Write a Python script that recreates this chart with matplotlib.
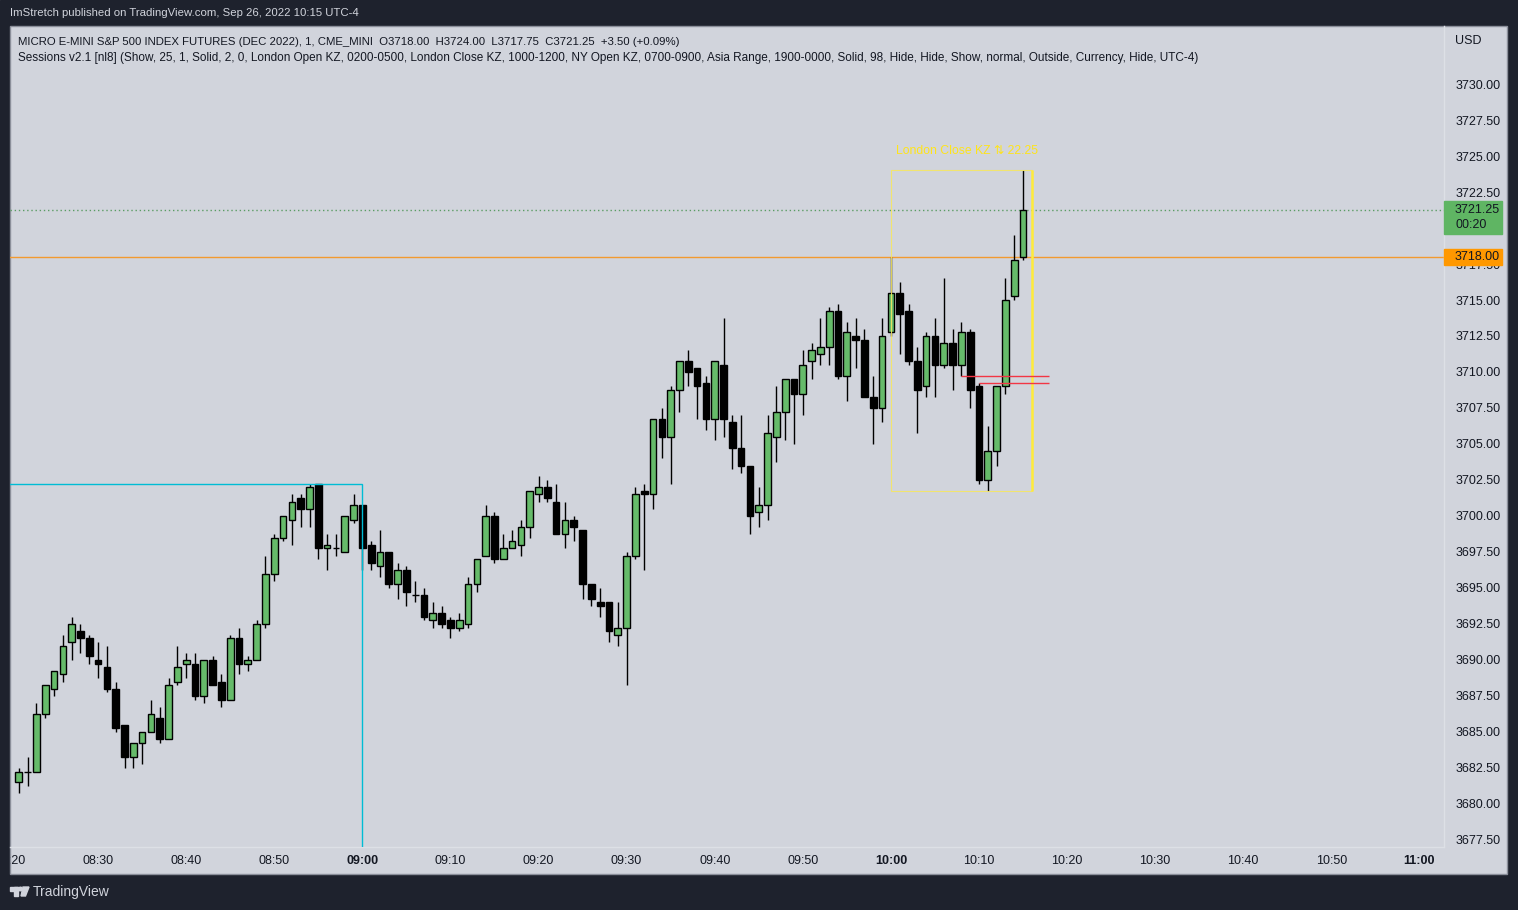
import numpy as np
import pandas as pd
import matplotlib
matplotlib.use("Agg")
import matplotlib.pyplot as plt
from matplotlib.patches import Rectangle, Polygon, Circle

plt.rcParams['font.family'] = ['Liberation Sans', 'DejaVu Sans']

# ---------------- data ----------------
start_time = "08:21"
opens = [3681.5, 3682.25, 3682.25, 3686.25, 3688.0, 3689.0, 3691.25, 3692.0, 3691.5, 3690.0,
         3689.5, 3688.0, 3685.5, 3683.25, 3684.25, 3685.0, 3686.0, 3684.5, 3688.5, 3689.75,
         3689.75, 3687.5, 3690.0, 3688.5, 3687.25, 3691.5, 3689.75, 3690.0, 3692.5, 3696.0,
         3698.5, 3699.75, 3701.25, 3700.5, 3702.25, 3697.75, 3697.75, 3697.5, 3699.75, 3700.75,
         3698.0, 3696.5, 3697.5, 3695.25, 3696.25, 3694.5, 3694.5, 3692.75, 3693.25, 3692.75,
         3692.25, 3692.5, 3695.25, 3697.25, 3700.0, 3697.0, 3697.75, 3698.0, 3699.25, 3701.5,
         3702.0, 3701.0, 3698.75, 3699.75, 3699.0, 3695.25, 3694.0, 3694.0, 3691.75, 3692.25,
         3697.25, 3701.75, 3701.5, 3706.75, 3705.5, 3708.75, 3710.75, 3710.25, 3709.25, 3706.75,
         3710.5, 3706.5, 3704.75, 3703.5, 3700.25, 3700.75, 3705.5, 3707.25, 3709.5, 3708.5,
         3710.75, 3711.25, 3711.75, 3714.25, 3709.75, 3712.5, 3712.25, 3708.25, 3707.5, 3712.75,
         3715.5, 3714.25, 3710.75, 3709.0, 3712.5, 3710.5, 3712.0, 3710.5, 3712.75, 3709.0,
         3702.5, 3704.5, 3709.0, 3715.25, 3718.0]
highs = [3682.5, 3683.25, 3687.0, 3688.25, 3689.25, 3691.75, 3693.0, 3692.5, 3691.75, 3691.25,
         3691.0, 3688.5, 3685.5, 3684.25, 3685.0, 3687.25, 3686.75, 3688.75, 3691.0, 3690.5,
         3690.5, 3690.0, 3690.25, 3689.0, 3691.75, 3692.25, 3690.25, 3692.75, 3697.25, 3698.75,
         3700.0, 3701.5, 3701.5, 3702.25, 3702.25, 3698.75, 3698.75, 3700.0, 3701.5, 3700.75,
         3698.25, 3699.0, 3697.5, 3696.75, 3696.5, 3695.5, 3695.0, 3694.0, 3693.75, 3693.0,
         3693.25, 3695.75, 3697.0, 3700.75, 3700.25, 3698.75, 3699.0, 3699.75, 3701.75, 3702.75,
         3702.5, 3702.25, 3701.0, 3700.0, 3699.0, 3695.25, 3695.0, 3694.0, 3694.0, 3697.5,
         3702.0, 3702.25, 3706.75, 3707.5, 3709.0, 3710.75, 3711.5, 3710.25, 3709.75, 3710.75,
         3713.75, 3707.0, 3707.0, 3703.5, 3702.0, 3707.0, 3709.0, 3709.5, 3709.5, 3711.5,
         3712.0, 3713.75, 3714.5, 3714.75, 3713.5, 3713.75, 3713.0, 3709.75, 3713.75, 3718.0,
         3716.25, 3714.75, 3711.75, 3712.75, 3713.75, 3716.5, 3713.0, 3713.5, 3713.0, 3709.25,
         3706.25, 3709.0, 3716.5, 3719.5, 3724.0]
lows = [3680.75, 3681.25, 3682.25, 3686.0, 3687.5, 3688.5, 3690.0, 3690.5, 3689.75, 3688.75,
        3687.75, 3685.0, 3682.5, 3682.5, 3682.75, 3685.0, 3684.25, 3684.5, 3688.25, 3688.75,
        3687.25, 3687.0, 3688.25, 3686.75, 3687.25, 3689.0, 3689.25, 3690.0, 3692.25, 3695.5,
        3698.25, 3698.0, 3699.25, 3699.25, 3697.0, 3696.25, 3697.25, 3697.5, 3699.5, 3696.25,
        3696.25, 3695.75, 3695.0, 3694.25, 3693.75, 3694.0, 3692.75, 3692.25, 3692.25, 3691.5,
        3692.0, 3692.25, 3694.75, 3697.25, 3696.75, 3697.0, 3697.75, 3697.25, 3698.5, 3701.0,
        3701.0, 3698.75, 3697.75, 3698.25, 3694.25, 3693.75, 3693.0, 3691.25, 3691.0, 3688.25,
        3697.0, 3696.25, 3700.5, 3704.0, 3702.25, 3707.25, 3709.0, 3706.75, 3706.0, 3705.25,
        3705.5, 3703.25, 3703.0, 3698.75, 3699.25, 3699.75, 3703.75, 3705.25, 3705.0, 3707.0,
        3709.5, 3710.5, 3710.5, 3709.5, 3708.0, 3710.25, 3708.25, 3705.0, 3706.5, 3712.5,
        3711.25, 3710.5, 3705.75, 3708.25, 3708.25, 3710.25, 3708.75, 3709.75, 3707.5, 3702.25,
        3701.75, 3703.5, 3708.5, 3715.0, 3717.75]
closes = [3682.25, 3682.25, 3686.25, 3688.25, 3689.25, 3691.0, 3692.5, 3691.5, 3690.25, 3689.75,
          3688.0, 3685.25, 3683.25, 3684.25, 3685.0, 3686.25, 3684.5, 3688.25, 3689.5, 3690.0,
          3687.5, 3690.0, 3688.25, 3687.25, 3691.5, 3689.75, 3690.0, 3692.5, 3696.0, 3698.5,
          3700.0, 3701.0, 3700.5, 3702.0, 3697.75, 3698.0, 3697.75, 3700.0, 3700.75, 3697.75,
          3696.75, 3697.5, 3695.25, 3696.25, 3694.75, 3694.5, 3693.0, 3693.25, 3692.5, 3692.25,
          3692.75, 3695.25, 3697.0, 3700.0, 3697.0, 3697.75, 3698.25, 3699.25, 3701.75, 3702.0,
          3701.25, 3698.75, 3699.75, 3699.25, 3695.25, 3694.25, 3693.75, 3692.0, 3692.25, 3697.25,
          3701.5, 3701.5, 3706.75, 3705.5, 3708.75, 3710.75, 3710.0, 3709.0, 3706.75, 3710.75,
          3706.75, 3704.75, 3703.5, 3700.0, 3700.75, 3705.75, 3707.25, 3709.5, 3708.5, 3710.5,
          3711.5, 3711.75, 3714.25, 3709.75, 3712.75, 3712.25, 3708.25, 3707.5, 3712.5, 3715.5,
          3714.0, 3710.75, 3708.75, 3712.5, 3710.5, 3712.0, 3710.5, 3712.75, 3708.75, 3702.5,
          3704.5, 3709.0, 3715.0, 3717.75, 3721.25]

x_tick_labels = ["08:20", "08:30", "08:40", "08:50", "09:00", "09:10", "09:20", "09:30",
                 "09:40", "09:50", "10:00", "10:10", "10:20", "10:30", "10:40", "10:50", "11:00"]
bold_ticks = ["09:00", "10:00", "11:00"]
y_ticks = [3677.5 + 2.5 * i for i in range(22)]
hidden_y_ticks = [3720.0]   # covered by the last-price label

ny_open_session = ("07:00", "09:00")
london_close_start = "10:00"
hline_level = 3718.00
last_price = 3721.25
countdown = "00:20"
red_levels = [3709.75, 3709.25]
red_starts = ["10:08", "10:10"]
red_end = "10:18"

header1 = ("MICRO E-MINI S&P 500 INDEX FUTURES (DEC 2022), 1, CME_MINI  O3718.00  H3724.00  "
           "L3717.75  C3721.25  +3.50 (+0.09%)")
header2 = ("Sessions v2.1 [nl8] (Show, 25, 1, Solid, 2, 0, London Open KZ, 0200-0500, London Close KZ, "
           "1000-1200, NY Open KZ, 0700-0900, Asia Range, 1900-0000, Solid, 98, Hide, Hide, Show, normal, "
           "Outside, Currency, Hide, UTC-4)")
published = "ImStretch published on TradingView.com, Sep 26, 2022 10:15 UTC-4"


def mins(s):
    h, m = s.split(":")
    return int(h) * 60 + int(m)


O = np.array(opens); H = np.array(highs); L = np.array(lows); C = np.array(closes)
t = mins(start_time) + np.arange(len(O))

# ---------------- figure ----------------
W, Hpx = 1518, 910
fig = plt.figure(figsize=(W / 100, Hpx / 100), dpi=100)
bg = fig.add_axes([0, 0, 1, 1])
bg.set_xlim(0, W); bg.set_ylim(Hpx, 0); bg.axis('off'); bg.set_zorder(0)
bg.add_patch(Rectangle((0, 0), W, Hpx, color='#1e222d'))
panel = Rectangle((10, 26), 1497, 848, facecolor='#d1d4dc', edgecolor='#8b8f9a', lw=1)
bg.add_patch(panel)
bg.text(10, 13, published, color='#d1d4dc', fontsize=8.2, va='center', ha='left')
bg.text(18, 42, header1, color='#131722', fontsize=8.2, va='center', ha='left')
bg.text(18, 58, header2, color='#131722', fontsize=8.5, va='center', ha='left')
bg.text(1455, 41, "USD", color='#131722', fontsize=9, va='center', ha='left')
# TradingView logo
logo_col = '#d1d4dc'
bg.add_patch(Rectangle((10, 887), 7.5, 3.5, color=logo_col))
bg.add_patch(Rectangle((13.5, 887), 4, 9, color=logo_col))
bg.add_patch(Circle((20.5, 889), 1.8, color=logo_col))
bg.add_patch(Polygon([(23, 887), (29, 887), (25.5, 896), (21, 896)], closed=True, color=logo_col))
bg.text(33, 892, "TradingView", color=logo_col, fontsize=10, va='center', ha='left')

# main axes
left, right, top, bottom = 10, 1444, 26, 847
ax = fig.add_axes([left / W, (Hpx - bottom) / Hpx, (right - left) / W, (bottom - top) / Hpx])
ax.set_facecolor('none'); ax.set_zorder(1)
ax.set_xlim(500.75, 662.79)
ax.set_ylim(3677.01, 3734.03)
for s in ['top', 'left']:
    ax.spines[s].set_visible(False)
for s in ['right', 'bottom']:
    ax.spines[s].set_color('#dde0e6')
    ax.spines[s].set_linewidth(1)

# candles
green = '#66bb6a'
up = C >= O
ax.vlines(t, L, H, color='black', lw=1, zorder=2)
ax.bar(t, np.abs(C - O), bottom=np.minimum(O, C), width=0.76,
       color=np.where(up, green, 'black'), edgecolor='black', lw=1, zorder=3)

# NY open session box
ny0, ny1 = mins(ny_open_session[0]), mins(ny_open_session[1])
ny_mask = (t >= ny0) & (t < ny1)
ny_high = H[ny_mask].max()
ax.add_patch(Rectangle((ny0, 3600), ny1 - ny0, ny_high - 3600, fill=False,
                       edgecolor='#00bcd4', lw=1, zorder=4))

# London close box
lc0 = mins(london_close_start)
lc_mask = t >= lc0
lc_hi, lc_lo = H[lc_mask].max(), L[lc_mask].min()
lc1 = t[-1] + 1
ax.add_patch(Rectangle((lc0, lc_lo), lc1 - lc0, lc_hi - lc_lo, fill=False,
                       edgecolor='#f5e663', lw=0.8, alpha=0.9, zorder=4))
ax.vlines(lc1, lc_lo, lc_hi, color='#ffeb3b', lw=1.8, zorder=4)
ax.text((lc0 + lc1) / 2 + 0.6, lc_hi + 1.35, f"London Close KZ \u21c5 {lc_hi - lc_lo:.2f}",
        color='#ffe41a', fontsize=8.8, ha='center', va='center', zorder=5)

# red lines
for lvl, st in zip(red_levels, red_starts):
    ax.hlines(lvl, mins(st), mins(red_end), color='#f23645', lw=1, zorder=4)

# horizontal lines
ax.axhline(hline_level, color='#f29a30', lw=1, zorder=1.5)
ax.axhline(last_price, color='#5b9c64', lw=1, ls=(0, (1, 2)), zorder=1.5)

# axes ticks
ax.yaxis.tick_right()
ax.set_yticks(y_ticks)
ax.set_yticklabels(["" if v in hidden_y_ticks else f"{v:.2f}" for v in y_ticks])
ax.tick_params(axis='y', length=0, pad=8, labelsize=9, labelcolor='#131722')
ax.set_xticks([mins(s) for s in x_tick_labels])
ax.set_xticklabels(x_tick_labels)
ax.tick_params(axis='x', length=0, pad=6, labelsize=9, labelcolor='#131722')
for lab in ax.get_xticklabels():
    if lab.get_text() in bold_ticks:
        lab.set_fontweight('bold')
    lab.set_clip_path(panel)

# price labels
trans = ax.get_yaxis_transform()
x_end = (1502 - left) / (right - left)
x_txt = (1455 - left) / (right - left)
ax.add_patch(Rectangle((1.0, last_price - 1.67), x_end - 1.0, 2.29, transform=trans,
                       color='#5fb563', clip_on=False, zorder=6))
ax.text(x_txt, last_price, f"{last_price:.2f}", transform=trans, fontsize=9,
        color='#131722', va='center', ha='left', zorder=7, clip_on=False)
ax.text(x_txt, last_price - 1.04, countdown, transform=trans, fontsize=9,
        color='#131722', va='center', ha='left', zorder=7, clip_on=False)
ax.add_patch(Rectangle((1.0, hline_level - 0.56), x_end - 1.0, 1.12, transform=trans,
                       color='#ff9800', clip_on=False, zorder=6))
ax.text(x_txt, hline_level, f"{hline_level:.2f}", transform=trans, fontsize=9,
        color='#131722', va='center', ha='left', zorder=7, clip_on=False)

fig.savefig("out.png", dpi=100)
